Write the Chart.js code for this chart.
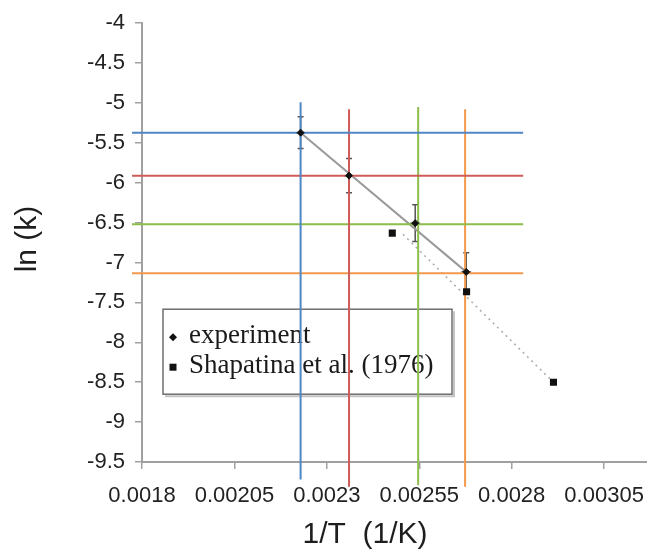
<!DOCTYPE html>
<html>
<head>
  <meta charset="utf-8">
  <title>ln(k) x 1/T</title>
  <script src="https://cdn.jsdelivr.net/npm/chart.js"></script>
  <style>
    body { margin: 0; background: #fff; }
    #caixa { width: 647px; height: 551px; }
  </style>
</head>
<body>
  <div id="caixa"><canvas id="grafico"></canvas></div>

<script>
  // experiment points and error bars
  const expX = [0.002229, 0.00236, 0.002539, 0.002677];
  const expY = [-5.372, -5.911, -6.506, -7.117];
  const expErr = [0.2, 0.215, 0.23, 0.24];

  // Shapatina et al. (1976)
  const shapX = [0.002477, 0.002678, 0.002913];
  const shapY = [-6.631, -7.367, -8.501];

  // fitted lines
  const fitX = [0.002229, 0.002677];
  const fitY = [-5.372, -7.117];
  const shapFitX = [0.002506, 0.002913];
  const shapFitY = [-6.647, -8.501];

  // coloured guide lines (blue, red, green, orange)
  const guideColors = ["#4f86c6", "#cf5b59", "#8dbd4a", "#f3994b"];
  const guideX = [0.002229, 0.00236, 0.002547, 0.002674];
  const guideY = [-5.372, -5.911, -6.519, -7.133];
  const guideXFrom = 0.001773;
  const guideXTo = 0.002831;
  const guideYTop = [-4.99, -5.08, -5.05, -5.08];
  const guideYBottom = [-9.72, -9.81, -9.79, -9.81];

  // axes
  const xTicks = [0.0018, 0.00205, 0.0023, 0.00255, 0.0028, 0.00305];
  const xTickLabels = ["0.0018", "0.00205", "0.0023", "0.00255", "0.0028", "0.00305"];
  const xMin = 0.0018;
  const xMax = 0.003166;
  const yMin = -9.5;
  const yMax = -4;
  const xTitle = "1/T  (1/K)";
  const yTitle = "ln (k)";
  const legendLabels = ["experiment", "Shapatina et al. (1976)"];

  const toPts = (xs, ys) => xs.map((x, i) => ({ x: x, y: ys[i] }));

  let datasets = [];

  // guide lines drawn over the legend and the fit lines
  for (let i = 0; i < guideColors.length; i++) {
    datasets.push({
      data: [{ x: guideXFrom, y: guideY[i] }, { x: guideXTo, y: guideY[i] }],
      borderColor: guideColors[i], borderWidth: 2, showLine: true,
      pointRadius: 0, clip: false
    });
    datasets.push({
      data: [{ x: guideX[i], y: guideYTop[i] }, { x: guideX[i], y: guideYBottom[i] }],
      borderColor: guideColors[i], borderWidth: 2, showLine: true,
      pointRadius: 0, clip: false
    });
  }

  // markers on top of everything (lowest order)
  datasets.push({
    label: legendLabels[0],
    data: toPts(expX, expY),
    order: -1,
    pointStyle: "rectRot", pointRadius: 3.5,
    backgroundColor: "#111", borderColor: "#111", borderWidth: 1
  });
  datasets.push({
    label: legendLabels[1],
    data: toPts(shapX, shapY),
    order: -1,
    pointStyle: "rect", pointRadius: 5,
    backgroundColor: "#111", borderColor: "#111", borderWidth: 0
  });
  datasets.push({
    data: toPts(fitX, fitY),
    showLine: true, borderColor: "#9a9a9a", borderWidth: 2, pointRadius: 0
  });
  datasets.push({
    data: toPts(shapFitX, shapFitY),
    showLine: true, borderColor: "#aaaaaa", borderWidth: 1.5,
    borderDash: [2, 4], pointRadius: 0
  });

  // legend box, error bars (under the guide lines) and axis titles
  const extras = {
    id: "extras",
    beforeDatasetsDraw(chart) {
      const ctx = chart.ctx;
      const a = chart.chartArea;
      const bx = a.left + 21, by = a.top + 286, bw = 289, bh = 85;
      ctx.save();
      ctx.fillStyle = "#fff";
      ctx.fillRect(bx, by, bw, bh);
      ctx.strokeStyle = "#c4c4c4";
      ctx.lineWidth = 2;
      ctx.beginPath();
      ctx.moveTo(bx + 2, by + bh + 2);
      ctx.lineTo(bx + bw + 2, by + bh + 2);
      ctx.lineTo(bx + bw + 2, by + 2);
      ctx.stroke();
      ctx.strokeStyle = "#6e6e6e";
      ctx.lineWidth = 1.5;
      ctx.strokeRect(bx, by, bw, bh);

      ctx.fillStyle = "#111";
      // diamond marker
      let mx = bx + 10, my = by + 28;
      ctx.beginPath();
      ctx.moveTo(mx, my - 4);
      ctx.lineTo(mx + 4, my);
      ctx.lineTo(mx, my + 4);
      ctx.lineTo(mx - 4, my);
      ctx.closePath();
      ctx.fill();
      // square marker
      my = by + 58;
      ctx.fillRect(mx - 3.5, my - 3.5, 7, 7);

      ctx.font = "27px 'Liberation Serif'";
      ctx.textBaseline = "middle";
      ctx.textAlign = "left";
      ctx.fillStyle = "#1a1a1a";
      ctx.fillText(legendLabels[0], bx + 26, by + 27);
      ctx.fillText(legendLabels[1], bx + 26, by + 57);

      // error bars
      const xs = chart.scales.x, ys = chart.scales.y;
      ctx.strokeStyle = "#555";
      ctx.lineWidth = 1.5;
      for (let i = 0; i < expX.length; i++) {
        const px = xs.getPixelForValue(expX[i]);
        const top = ys.getPixelForValue(expY[i] + expErr[i]);
        const bot = ys.getPixelForValue(expY[i] - expErr[i]);
        const mid = ys.getPixelForValue(expY[i]);
        ctx.beginPath();
        ctx.moveTo(px, top); ctx.lineTo(px, bot);
        ctx.moveTo(px - 3, top); ctx.lineTo(px + 3, top);
        ctx.moveTo(px - 3, bot); ctx.lineTo(px + 3, bot);
        ctx.moveTo(px - 5, mid); ctx.lineTo(px + 5, mid);
        ctx.stroke();
      }
      ctx.restore();
    },
    afterDraw(chart) {
      const ctx = chart.ctx;
      ctx.save();
      ctx.fillStyle = "#1e1e1e";
      ctx.font = "30px 'Liberation Sans'";
      ctx.textAlign = "center";
      ctx.textBaseline = "middle";
      ctx.fillText(xTitle, 365, 535);
      ctx.translate(28, 239);
      ctx.rotate(-Math.PI / 2);
      ctx.fillText(yTitle, 0, 0);
      ctx.restore();
    }
  };

  const fonteEixo = { family: "'Liberation Sans'", size: 22 };

  const config = {
    type: "scatter",
    data: { datasets: datasets },
    options: {
      responsive: true,
      maintainAspectRatio: false,
      animation: false,
      layout: { autoPadding: false, padding: { top: 21, left: 0, right: 0, bottom: 0 } },
      plugins: { legend: { display: false }, tooltip: { enabled: false } },
      scales: {
        x: {
          type: "linear", min: xMin, max: xMax,
          afterBuildTicks: (s) => { s.ticks = xTicks.map((v) => ({ value: v })); },
          afterFit: (s) => { s.height = 89; s.paddingLeft = 0; s.paddingRight = 0; },
          ticks: {
            callback: (v, i) => xTickLabels[i],
            font: fonteEixo, color: "#222", padding: 14,
            maxRotation: 0, autoSkip: false
          },
          grid: { drawOnChartArea: false, drawTicks: true, tickLength: 7, color: "#a0a0a0", lineWidth: 1.5 },
          border: { display: true, color: "#a0a0a0", width: 2 }
        },
        y: {
          type: "linear", min: yMin, max: yMax,
          afterFit: (s) => { s.width = 142; },
          ticks: {
            stepSize: 0.5, font: fonteEixo, color: "#222", padding: 10,
            callback: (v) => String(v)
          },
          grid: { drawOnChartArea: false, drawTicks: true, tickLength: 7, color: "#a0a0a0", lineWidth: 1.5 },
          border: { display: true, color: "#a0a0a0", width: 2 }
        }
      }
    },
    plugins: [extras]
  };

  let myChart = new Chart(document.getElementById("grafico"), config);
</script>
</body>
</html>
